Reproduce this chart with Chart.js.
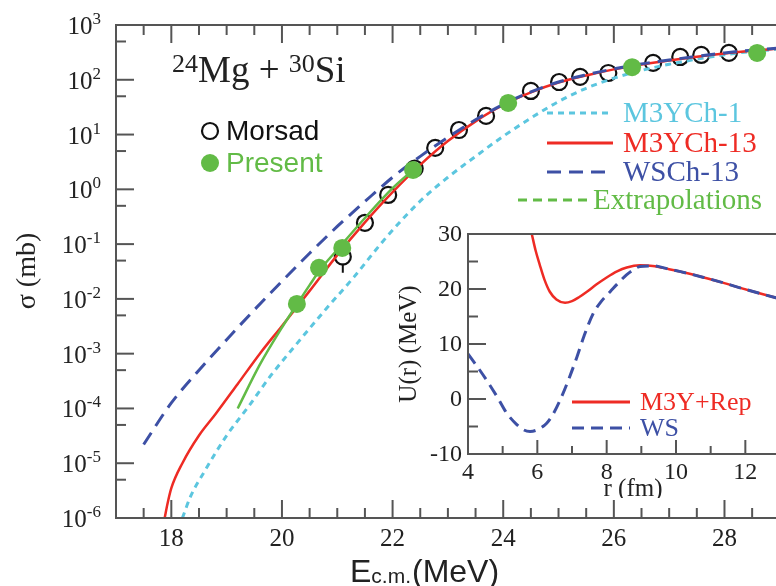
<!DOCTYPE html>
<html><head><meta charset="utf-8">
<script src="https://cdn.jsdelivr.net/npm/chart.js@4.4.1/dist/chart.umd.min.js"></script>
<style>
html,body{margin:0;padding:0;overflow:hidden;background:#fff;width:776px;height:586px}
#wrap{position:relative;width:776px;height:586px;overflow:hidden;background:#fff}
#main{position:absolute;left:0;top:0}
#inset{position:absolute;left:398px;top:214px}
</style></head><body>
<div id="wrap"><canvas id="main" width="790" height="586"></canvas><canvas id="inset" width="392" height="284"></canvas></div>
<script>
// ---------- main panel data ----------
const morsadE     = [21.10, 21.50, 21.92, 22.40, 22.77, 23.20, 23.69, 24.50, 25.01, 25.39, 25.90, 26.71, 27.20, 27.58, 28.08];
const morsadSigma = [0.059, 0.245, 0.79, 2.4, 5.7, 12.1, 21.9, 62.5, 91, 113, 133, 203, 261, 284, 309];
const morsadErrLo = [0.030, null, null, null, null, null, null, null, null, null, null, null, null, null, null];

const presentE     = [20.27, 20.67, 21.09, 22.37, 24.09, 26.33, 28.59];
const presentSigma = [0.0081, 0.037, 0.085, 2.26, 37.8, 170, 309];

const m3ych13E = [17.88, 17.93, 18.0, 18.2, 18.5, 18.8, 19.2, 19.6, 20.0, 20.5, 21.0, 21.5, 22.0, 22.5, 23.0, 23.5, 24.0, 24.5, 25.0, 25.5, 26.0, 26.5, 27.0, 27.5, 28.0, 28.5, 29.0];
const m3ych13S = [1.0e-6, 1.8e-6, 3.5e-6, 1.0e-5, 3.2e-5, 7.9e-5, 2.8e-4, 1.0e-3, 3.2e-3, 0.014, 0.063, 0.25, 0.89, 2.8, 7.6, 17.4, 34.7, 58.9, 89, 120, 155, 190, 224, 263, 302, 339, 372];

const wsch13E = [17.5, 18.0, 18.5, 19.0, 19.5, 20.0, 20.5, 21.0, 21.5, 22.0, 22.5, 23.0, 23.5, 24.0, 24.5, 25.0, 25.5, 26.0, 26.5, 27.0, 27.5, 28.0, 28.5, 29.0];
const wsch13S = [2.2e-5, 1.26e-4, 5.0e-4, 1.8e-3, 6.3e-3, 0.021, 0.068, 0.21, 0.60, 1.66, 4.0, 8.9, 18.6, 35.5, 60, 91, 123, 158, 195, 229, 269, 309, 347, 380];

const m3ych1E = [18.2, 18.35, 18.6, 19.0, 19.4, 19.8, 20.3, 20.8, 21.3, 21.8, 22.2, 22.6, 23.0, 23.5, 24.0, 24.5, 25.0, 25.5, 26.0, 26.5, 27.0, 27.5, 28.0, 28.5, 29.0];
const m3ych1S = [1.0e-6, 2.5e-6, 7.1e-6, 3.2e-5, 1.1e-4, 4.0e-4, 1.66e-3, 6.6e-3, 0.025, 0.105, 0.30, 0.76, 1.66, 4.0, 9.3, 20, 40, 70, 107, 148, 192, 238, 286, 330, 363];

const extrapE = [19.2, 19.6, 20.0, 20.27, 20.5, 20.7, 21.0, 21.5, 22.0, 22.4];
const extrapS = [1.0e-4, 6.3e-4, 3.0e-3, 7.9e-3, 0.0178, 0.035, 0.079, 0.30, 1.05, 2.4];

const xTickLabels = [18, 20, 22, 24, 26, 28];
const yDecades = [-6, -5, -4, -3, -2, -1, 0, 1, 2, 3];

// ---------- inset data ----------
const m3yRepR = [5.84, 5.95, 6.07, 6.2, 6.36, 6.55, 6.8, 7.0, 7.2, 7.43, 7.7, 8.0, 8.3, 8.58, 8.96, 9.33, 9.8, 10.3, 10.8, 11.27, 11.8, 12.3, 12.88, 13.0];
const m3yRepU = [30, 27, 24.4, 21.8, 19.5, 18.1, 17.5, 17.8, 18.5, 19.5, 20.8, 22.1, 23.2, 23.9, 24.3, 24.2, 23.6, 22.9, 22.1, 21.3, 20.3, 19.4, 18.4, 18.2];
const wsR = [4.0, 4.3, 4.55, 4.85, 5.12, 5.4, 5.6, 5.79, 6.0, 6.27, 6.45, 6.65, 6.9, 7.14, 7.35, 7.6, 7.85, 8.1, 8.35, 8.58, 8.8, 8.96, 9.33, 9.8, 10.3, 10.8, 11.27, 11.8, 12.3, 12.88, 13.0];
const wsU = [8.2, 5.6, 3.3, 0.3, -2.6, -4.6, -5.6, -5.9, -5.6, -4.4, -2.8, -0.3, 3.5, 7.6, 11.5, 15.4, 17.8, 19.5, 21.2, 22.6, 23.6, 24.1, 24.2, 23.6, 22.9, 22.1, 21.3, 20.3, 19.4, 18.4, 18.2];
const insetXTicks = [4, 6, 8, 10, 12];
const insetYTicks = [-10, 0, 10, 20, 30];

// ---------- colours ----------
const RED = '#ee2b24', BLUE = '#3d50a5', CYAN = '#5cc6df', GREEN = '#62bb46', AXIS = '#555555';
const SERIF = '"Liberation Serif", "DejaVu Serif", serif';
const SANS = '"Liberation Sans", Arial, sans-serif';

const pts = (xs, ys) => xs.map((v, i) => ({x: v, y: ys[i]}));

function line(ctx, x1, y1, x2, y2) { ctx.beginPath(); ctx.moveTo(x1, y1); ctx.lineTo(x2, y2); ctx.stroke(); }

const mainFrame = {
  id: 'mainFrame',
  afterDatasetsDraw(chart) {
    const {ctx, chartArea: a, scales: {x, y}} = chart;
    ctx.save();
    // error bar
    ctx.strokeStyle = '#111'; ctx.lineWidth = 2;
    morsadErrLo.forEach((lo, i) => {
      if (lo == null) return;
      const px = x.getPixelForValue(morsadE[i]);
      line(ctx, px, y.getPixelForValue(morsadSigma[i]) + 7, px, y.getPixelForValue(lo));
    });
    // frame
    ctx.strokeStyle = AXIS; ctx.lineWidth = 2;
    ctx.beginPath();
    ctx.moveTo(a.right + 10, a.top); ctx.lineTo(a.left, a.top); ctx.lineTo(a.left, a.bottom); ctx.lineTo(a.right + 10, a.bottom);
    ctx.stroke();
    // x ticks
    for (let v = 17.5; v < 29; v += 0.5) {
      const px = x.getPixelForValue(v);
      const L = (Math.abs(v % 2) < 1e-9) ? 18 : 10;
      line(ctx, px, a.bottom, px, a.bottom - L);
      line(ctx, px, a.top, px, a.top + L);
    }
    // y ticks
    yDecades.forEach(n => {
      const py = y.getPixelForValue(Math.pow(10, n));
      if (n > -6 && n < 3) line(ctx, a.left, py, a.left + 18, py);
      if (n > -6) { const pm = y.getPixelForValue(5 * Math.pow(10, n - 1)); line(ctx, a.left, pm, a.left + 10, pm); }
    });
    // x tick labels
    ctx.fillStyle = '#222';
    ctx.font = '25px ' + SERIF; ctx.textAlign = 'center'; ctx.textBaseline = 'alphabetic';
    xTickLabels.forEach(v => ctx.fillText(String(v), x.getPixelForValue(v), a.bottom + 28));
    // y tick labels 10^n
    yDecades.forEach(n => {
      const py = y.getPixelForValue(Math.pow(10, n));
      const ex = (n < 0 ? '-' : '') + Math.abs(n);
      ctx.font = '17px ' + SERIF; ctx.textAlign = 'right';
      const ew = ctx.measureText(ex).width;
      ctx.fillText(ex, 101, py - 1);
      ctx.font = '25px ' + SERIF;
      ctx.fillText('10', 101 - ew, py + 9);
    });
    // axis titles
    ctx.save();
    ctx.translate(28, 271); ctx.rotate(-Math.PI / 2);
    ctx.font = '28px ' + SERIF; ctx.textAlign = 'center'; ctx.textBaseline = 'middle';
    ctx.fillText('\u03c3 (mb)', 0, 0);
    ctx.restore();
    ctx.textAlign = 'left'; ctx.textBaseline = 'alphabetic';
    let tx = 350;
    ctx.font = '32px ' + SANS; ctx.fillText('E', tx, 582); tx += ctx.measureText('E').width;
    ctx.font = '21px ' + SANS; ctx.fillText('c.m.', tx, 583); tx += ctx.measureText('c.m.').width + 1;
    ctx.font = '32px ' + SANS; ctx.fillText('(MeV)', tx, 582);
    // reaction label
    tx = 172;
    ctx.font = '26px ' + SERIF; ctx.fillText('24', tx, 72); tx += ctx.measureText('24').width;
    ctx.font = '37px ' + SERIF; ctx.fillText('Mg + ', tx, 82); tx += ctx.measureText('Mg + ').width;
    ctx.font = '26px ' + SERIF; ctx.fillText('30', tx, 72); tx += ctx.measureText('30').width;
    ctx.font = '37px ' + SERIF; ctx.fillText('Si', tx, 82);
    // left legend
    ctx.lineWidth = 2.2; ctx.strokeStyle = '#111';
    ctx.beginPath(); ctx.arc(210, 131, 8, 0, Math.PI * 2); ctx.stroke();
    ctx.fillStyle = GREEN;
    ctx.beginPath(); ctx.arc(210, 163, 9, 0, Math.PI * 2); ctx.fill();
    ctx.font = '28px ' + SANS; ctx.textBaseline = 'middle';
    ctx.fillStyle = '#111'; ctx.fillText('Morsad', 226, 132);
    ctx.fillStyle = GREEN; ctx.fillText('Present', 226, 164);
    // right legend
    const items = [
      {t: 'M3YCh-1', c: CYAN, d: [6, 5], y: 113, x1: 547, x2: 613, tx: 623},
      {t: 'M3YCh-13', c: RED, d: [], y: 143, x1: 547, x2: 613, tx: 623},
      {t: 'WSCh-13', c: BLUE, d: [14, 8], y: 172, x1: 547, x2: 613, tx: 623},
      {t: 'Extrapolations', c: GREEN, d: [9, 6], y: 200, x1: 518, x2: 587, tx: 593}
    ];
    ctx.font = '29px ' + SERIF;
    items.forEach(it => {
      ctx.strokeStyle = it.c; ctx.lineWidth = 3; ctx.setLineDash(it.d);
      line(ctx, it.x1, it.y, it.x2, it.y);
      ctx.setLineDash([]);
      ctx.fillStyle = it.c; ctx.fillText(it.t, it.tx, it.y + 1);
    });
    ctx.restore();
  }
};

new Chart(document.getElementById('main'), {
  type: 'scatter',
  data: {
    datasets: [
      {label: 'Morsad', data: pts(morsadE, morsadSigma), showLine: false, pointRadius: 8, pointBorderWidth: 2.2,
       pointBorderColor: '#111', pointBackgroundColor: 'rgba(0,0,0,0)', order: 6},
      {label: 'M3YCh-1', data: pts(m3ych1E, m3ych1S), showLine: true, pointRadius: 0, borderColor: CYAN, borderWidth: 3,
       borderDash: [6, 5], cubicInterpolationMode: 'monotone', order: 5},
      {label: 'M3YCh-13', data: pts(m3ych13E, m3ych13S), showLine: true, pointRadius: 0, borderColor: RED, borderWidth: 2.5,
       cubicInterpolationMode: 'monotone', order: 4},
      {label: 'WSCh-13', data: pts(wsch13E, wsch13S), showLine: true, pointRadius: 0, borderColor: BLUE, borderWidth: 3,
       borderDash: [14, 8], cubicInterpolationMode: 'monotone', order: 3},
      {label: 'Extrapolations', data: pts(extrapE, extrapS), showLine: true, pointRadius: 0, borderColor: GREEN, borderWidth: 2.5,
       cubicInterpolationMode: 'monotone', order: 2},
      {label: 'Present', data: pts(presentE, presentSigma), showLine: false, pointRadius: 9, pointBorderWidth: 0,
       pointBackgroundColor: GREEN, pointBorderColor: GREEN, order: 1}
    ]
  },
  options: {
    responsive: false, animation: false, devicePixelRatio: 1,
    layout: {padding: {left: 116, top: 25, right: 10, bottom: 68}},
    plugins: {legend: {display: false}, tooltip: {enabled: false}},
    scales: {
      x: {type: 'linear', min: 17, max: 29, display: false},
      y: {type: 'logarithmic', min: 1e-6, max: 1e3, display: false}
    }
  },
  plugins: [mainFrame]
});

// ---------- inset ----------
const insetFrame = {
  id: 'insetFrame',
  afterDatasetsDraw(chart) {
    const {ctx, chartArea: a, scales: {x, y}} = chart;
    ctx.save();
    ctx.strokeStyle = AXIS; ctx.lineWidth = 2;
    ctx.beginPath();
    ctx.moveTo(a.right + 10, a.top); ctx.lineTo(a.left, a.top); ctx.lineTo(a.left, a.bottom); ctx.lineTo(a.right + 10, a.bottom);
    ctx.stroke();
    for (let v = 5; v <= 13; v += 1) {
      const px = x.getPixelForValue(v);
      line(ctx, px, a.bottom, px, a.bottom - (v % 2 === 0 ? 14 : 8));
    }
    for (let v = -5; v < 30; v += 5) {
      const py = y.getPixelForValue(v);
      line(ctx, a.left, py, a.left + (v % 10 === 0 ? 18 : 10), py);
    }
    ctx.fillStyle = '#222';
    ctx.font = '24px ' + SERIF; ctx.textAlign = 'right'; ctx.textBaseline = 'middle';
    insetYTicks.forEach(v => ctx.fillText(String(v), 64, y.getPixelForValue(v) + 1));
    ctx.textAlign = 'center'; ctx.textBaseline = 'alphabetic';
    insetXTicks.forEach(v => ctx.fillText(String(v), x.getPixelForValue(v), a.bottom + 25));
    ctx.font = '25px ' + SERIF;
    ctx.fillText('r (fm)', 235, 282);
    ctx.save();
    ctx.translate(11, 130); ctx.rotate(-Math.PI / 2);
    ctx.textBaseline = 'middle';
    ctx.fillText('U(r) (MeV)', 0, 0);
    ctx.restore();
    // legend
    ctx.lineWidth = 3;
    ctx.strokeStyle = RED; line(ctx, 174, 188, 232, 188);
    ctx.strokeStyle = BLUE; ctx.setLineDash([12, 7]); line(ctx, 174, 214, 232, 214); ctx.setLineDash([]);
    ctx.font = '26px ' + SERIF; ctx.textAlign = 'left'; ctx.textBaseline = 'middle';
    ctx.fillStyle = RED; ctx.fillText('M3Y+Rep', 242, 189);
    ctx.fillStyle = BLUE; ctx.fillText('WS', 242, 215);
    ctx.restore();
  }
};

new Chart(document.getElementById('inset'), {
  type: 'scatter',
  data: {
    datasets: [
      {label: 'M3Y+Rep', data: pts(m3yRepR, m3yRepU), showLine: true, pointRadius: 0, borderColor: RED, borderWidth: 2.5,
       cubicInterpolationMode: 'monotone', order: 2},
      {label: 'WS', data: pts(wsR, wsU), showLine: true, pointRadius: 0, borderColor: BLUE, borderWidth: 3,
       borderDash: [12, 7], cubicInterpolationMode: 'monotone', order: 1}
    ]
  },
  options: {
    responsive: false, animation: false, devicePixelRatio: 1,
    layout: {padding: {left: 70, top: 20, right: 10, bottom: 44}},
    plugins: {legend: {display: false}, tooltip: {enabled: false}},
    scales: {
      x: {type: 'linear', min: 4, max: 13, display: false},
      y: {type: 'linear', min: -10, max: 30, display: false}
    }
  },
  plugins: [insetFrame]
});
</script>
</body></html>
